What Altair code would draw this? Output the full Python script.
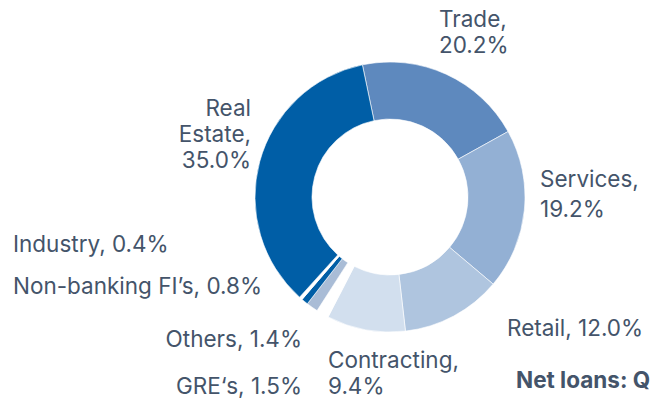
import altair as alt
import pandas as pd
import math

# ---- data ----
categories = ["Trade", "Services", "Retail", "Contracting", "GRE‘s", "Others",
              "Non-banking FI’s", "Industry", "Real Estate"]
shares = [20.2, 19.2, 12.0, 9.4, 1.5, 1.4, 0.8, 0.4, 35.0]
slice_colors = ["#5E89BE", "#93B0D4", "#AFC5DF", "#D2DFEE", "#FFFFFF",
                "#A9BCD6", "#005EA6", "#FFFFFF", "#005EA6"]
footer_text = "Net loans: Q"

# ---- layout (kept apart from the data) ----
TEXT_COLOR = "#44546A"
FONT = "Inter"
FONT_SIZE = 22.5
CX, CY = 382, 189
R_OUT, R_IN = 135, 78
START = 2 * math.pi - math.radians(11.8)

# x, first baseline, line height, align
label_layout = {
    "Trade": (431, 19, 26, "left"),
    "Services": (532, 179, 30, "left"),
    "Retail": (499, 328, 0, "left"),
    "Contracting": (320, 360, 26, "left"),
    "GRE‘s": (294, 386, 0, "right"),
    "Others": (294, 339, 0, "right"),
    "Non-banking FI’s": (5, 286, 0, "left"),
    "Industry": (5, 244, 0, "left"),
    "Real Estate": (243, 108, 26, "right"),
}


def label_lines(cat, v):
    s = f"{v:.1f}%"
    if cat in ("Trade", "Services", "Contracting"):
        return [cat + ",", s]
    if cat == "Real Estate":
        return ["Real", "Estate,", s]
    return [f"{cat}, {s}"]


slices = pd.DataFrame({
    "category": categories,
    "share": shares,
    "idx": list(range(len(categories))),
})

rows = []
for cat, v in zip(categories, shares):
    x0, y0, lh, al = label_layout[cat]
    for i, line in enumerate(label_lines(cat, v)):
        rows.append({"text": line, "x": x0, "y": y0 + i * lh, "align": al})
labels = pd.DataFrame(rows)

arc = alt.Chart(slices).mark_arc(
    outerRadius=R_OUT, innerRadius=R_IN, stroke="#FFFFFF", strokeWidth=0.6
).encode(
    theta=alt.Theta("share:Q", stack=True,
                    scale=alt.Scale(range=[START, START + 2 * math.pi])),
    order=alt.Order("idx:Q"),
    color=alt.Color("category:N", scale=alt.Scale(domain=categories, range=slice_colors),
                    legend=None),
    x=alt.value(CX),
    y=alt.value(CY),
)


def text_layer(al):
    return alt.Chart(labels).transform_filter(
        alt.datum.align == al
    ).mark_text(
        align=al, baseline="alphabetic", font=FONT, fontSize=FONT_SIZE, color=TEXT_COLOR
    ).encode(
        x=alt.X("x:Q", scale=None, axis=None),
        y=alt.Y("y:Q", scale=None, axis=None),
        text="text:N",
    )


footer = alt.Chart(pd.DataFrame({"text": [footer_text], "x": [508], "y": [380]})).mark_text(
    align="left", baseline="alphabetic", font=FONT, fontSize=FONT_SIZE, fontWeight="bold",
    color=TEXT_COLOR
).encode(
    x=alt.X("x:Q", scale=None, axis=None),
    y=alt.Y("y:Q", scale=None, axis=None),
    text="text:N",
)

chart = alt.layer(arc, text_layer("left"), text_layer("right"), footer).properties(
    width=642, height=393, autosize=alt.AutoSizeParams(type="none"), padding=0
).configure_view(stroke=None)

chart.save("out.html", embed_options={"renderer": "svg", "actions": False})
